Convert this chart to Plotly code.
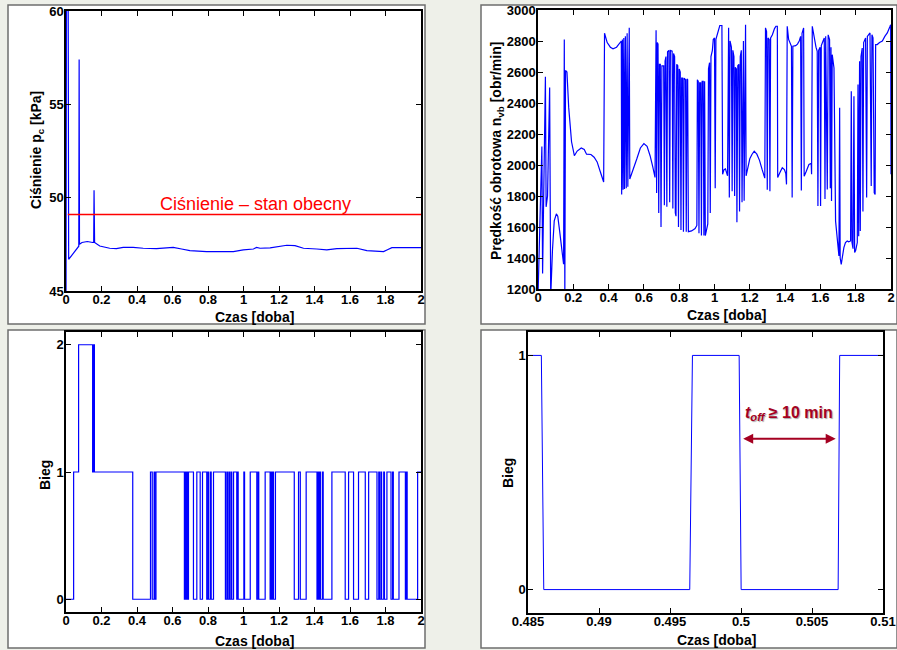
import plotly.graph_objects as go

W, H = 897, 650

# ---------------- data ----------------
# Panel 1: pressure p_c [kPa] vs time [day]
PRESS_POINTS = [
    (0.000, 44.0), (0.003, 62.0), (0.012, 62.0), (0.015, 46.7), (0.040, 47.0),
    (0.068, 47.4), (0.072, 47.4), (0.074, 57.4), (0.076, 47.5), (0.090, 47.6),
    (0.120, 47.65), (0.150, 47.6), (0.156, 47.6), (0.158, 50.4), (0.161, 47.6),
    (0.190, 47.41), (0.246, 47.29), (0.284, 47.27), (0.322, 47.34), (0.378, 47.34),
    (0.435, 47.29), (0.510, 47.27), (0.585, 47.31), (0.604, 47.34), (0.651, 47.25),
    (0.698, 47.16), (0.792, 47.11), (0.943, 47.11), (0.999, 47.2), (1.056, 47.25),
    (1.074, 47.34), (1.093, 47.29), (1.150, 47.31), (1.206, 47.41), (1.244, 47.45),
    (1.290, 47.43), (1.338, 47.29), (1.413, 47.25), (1.469, 47.2), (1.526, 47.27),
    (1.639, 47.29), (1.695, 47.16), (1.789, 47.11), (1.808, 47.2), (1.836, 47.32),
    (2.000, 47.32),
]
PRESS_NOW = 49.1
PRESS_NOW_SPAN = [0.01, 2.0]
PRESS_LABEL = "Ciśnienie – stan obecny"

# Panel 2: rotational speed n_vb [obr/min]
RPM_POINTS = [
    (0.000, 1150), (0.012, 1750), (0.022, 2120), (0.026, 1300), (0.034, 2120),
    (0.042, 2570), (0.046, 1730), (0.054, 1800), (0.066, 2500), (0.072, 1150),
    (0.082, 1450), (0.092, 1640), (0.104, 1685), (0.112, 1670), (0.122, 1580),
    (0.134, 1450), (0.145, 1360), (0.149, 2810), (0.152, 1150), (0.156, 2610),
    (0.164, 2600), (0.174, 2370), (0.190, 2150), (0.206, 2060), (0.222, 2090),
    (0.245, 2110), (0.262, 2100), (0.275, 2070), (0.300, 2068), (0.318, 2050),
    (0.335, 2020), (0.352, 1960), (0.372, 1890), (0.377, 2850), (0.392, 2790),
    (0.410, 2760), (0.425, 2750), (0.445, 2760), (0.462, 2790), (0.472, 2800),
    (0.474, 1810), (0.478, 2810), (0.482, 1840), (0.486, 2820), (0.490, 1845),
    (0.495, 2830), (0.500, 1850), (0.505, 2850), (0.509, 1860), (0.513, 2880),
    (0.517, 2885), (0.520, 1910), (0.540, 1970), (0.560, 2040), (0.580, 2110),
    (0.600, 2138), (0.618, 2120), (0.635, 2060), (0.650, 1990), (0.663, 1920),
    (0.669, 2870), (0.672, 1820), (0.676, 2790), (0.680, 2780), (0.684, 1690),
    (0.688, 2650), (0.693, 2650), (0.697, 1600), (0.702, 2640), (0.712, 2640),
    (0.716, 1740), (0.720, 2670), (0.725, 2700), (0.730, 1730), (0.734, 2730),
    (0.742, 2740), (0.746, 1760), (0.750, 2740), (0.760, 2735), (0.764, 1720),
    (0.768, 2720), (0.774, 2700), (0.778, 1690), (0.782, 1670), (0.786, 2650),
    (0.792, 2640), (0.796, 1600), (0.800, 2620), (0.806, 2600), (0.810, 1580),
    (0.814, 2560), (0.820, 2560), (0.824, 1570), (0.828, 2560), (0.836, 2550),
    (0.840, 1570), (0.844, 2555), (0.848, 2550), (0.852, 1570), (0.870, 1575),
    (0.890, 1590), (0.900, 1610), (0.903, 2550), (0.908, 2540), (0.912, 1560),
    (0.916, 2530), (0.922, 2530), (0.926, 1545), (0.930, 2540), (0.936, 2540),
    (0.940, 1545), (0.944, 2540), (0.948, 1545), (0.956, 1600), (0.962, 1620),
    (0.966, 2620), (0.972, 2660), (0.976, 1690), (0.980, 2700), (0.988, 2740),
    (0.993, 2810), (1.000, 2820), (1.004, 1850), (1.008, 2810), (1.018, 2860),
    (1.030, 2900), (1.042, 2900), (1.046, 1940), (1.054, 1970), (1.062, 1975),
    (1.070, 1945), (1.074, 1930), (1.080, 2885), (1.084, 1790), (1.088, 2800),
    (1.096, 2760), (1.100, 1830), (1.104, 2740), (1.110, 2700), (1.114, 1800),
    (1.118, 2630), (1.124, 2620), (1.127, 1630), (1.132, 2640), (1.138, 2650),
    (1.142, 1700), (1.146, 2700), (1.152, 2740), (1.156, 1760), (1.160, 2760),
    (1.164, 2800), (1.168, 1770), (1.172, 2880), (1.176, 2905), (1.179, 1930),
    (1.190, 1990), (1.200, 2040), (1.212, 2068), (1.225, 2089), (1.240, 2070),
    (1.255, 2030), (1.270, 1970), (1.285, 1915), (1.289, 2885), (1.295, 2860),
    (1.299, 1840), (1.303, 2820), (1.310, 2810), (1.314, 1830), (1.318, 2820),
    (1.328, 2840), (1.340, 2880), (1.348, 2895), (1.356, 2895), (1.358, 1920),
    (1.370, 1950), (1.384, 1982), (1.396, 1970), (1.404, 1945), (1.408, 1875),
    (1.412, 2895), (1.420, 2810), (1.428, 2780), (1.436, 2766), (1.440, 1790),
    (1.444, 2766), (1.460, 2770), (1.470, 2780), (1.480, 2800), (1.488, 2830),
    (1.492, 1836), (1.496, 2850), (1.505, 2884), (1.508, 1928), (1.520, 1960),
    (1.535, 2003), (1.548, 2010), (1.550, 1940), (1.554, 2895), (1.565, 2810),
    (1.575, 2760), (1.582, 2734), (1.586, 1735), (1.590, 2740), (1.598, 2760),
    (1.601, 1735), (1.605, 2770), (1.615, 2800), (1.622, 2820), (1.626, 1780),
    (1.630, 2830), (1.639, 1842), (1.644, 2840), (1.652, 2809), (1.656, 1850),
    (1.660, 2760), (1.663, 1767), (1.667, 2712), (1.677, 2626), (1.686, 1638),
    (1.696, 1510), (1.705, 1413), (1.709, 2369), (1.712, 1400), (1.718, 1359),
    (1.726, 1420), (1.733, 1467), (1.742, 1500), (1.752, 1510), (1.760, 1505),
    (1.771, 1510), (1.775, 2476), (1.779, 1500), (1.785, 1460), (1.790, 2444),
    (1.794, 1435), (1.800, 1450), (1.809, 1500), (1.813, 2519), (1.817, 1540),
    (1.822, 2669), (1.826, 1574), (1.830, 2700), (1.837, 2755), (1.841, 1700),
    (1.845, 2790), (1.856, 2820), (1.862, 1790), (1.866, 2830), (1.881, 2852),
    (1.888, 1864), (1.892, 2840), (1.898, 2820), (1.905, 1820), (1.910, 1810),
    (1.913, 2777), (1.922, 2777), (1.935, 2790), (1.951, 2800), (1.965, 2830),
    (1.979, 2852), (1.993, 2890), (1.998, 2905), (2.000, 1940),
]

# Panel 3: gear (Bieg) - switching instants and value after switch
BIEG_STEPS = [
    (0.000, 0), (0.043, 1), (0.071, 2), (0.150, 1), (0.153, 2), (0.156, 1),
    (0.158, 2), (0.160, 1), (0.376, 0), (0.476, 1), (0.4859, 0), (0.4965, 1),
    (0.4999, 0), (0.5069, 1), (0.667, 0), (0.672, 1), (0.676, 0), (0.680, 1),
    (0.684, 0), (0.690, 1), (0.718, 0), (0.737, 1), (0.756, 0), (0.769, 1),
    (0.793, 0), (0.800, 1), (0.804, 0), (0.814, 1), (0.818, 0), (0.831, 1),
    (0.898, 0), (0.906, 1), (0.910, 0), (0.918, 1), (0.922, 0), (0.930, 1),
    (0.934, 0), (0.944, 1), (0.962, 0), (0.966, 1), (0.970, 0), (1.002, 1),
    (1.006, 0), (1.038, 1), (1.075, 0), (1.082, 1), (1.086, 0), (1.122, 1),
    (1.150, 0), (1.155, 1), (1.159, 0), (1.165, 1), (1.169, 0), (1.180, 1),
    (1.286, 0), (1.310, 1), (1.320, 0), (1.353, 1), (1.414, 0), (1.420, 1),
    (1.424, 0), (1.430, 1), (1.434, 0), (1.445, 1), (1.449, 0), (1.498, 1),
    (1.573, 0), (1.592, 1), (1.620, 0), (1.648, 1), (1.686, 0), (1.705, 1),
    (1.752, 0), (1.762, 1), (1.766, 0), (1.774, 1), (1.778, 0), (1.790, 1),
    (1.794, 0), (1.808, 1), (1.831, 0), (1.840, 1), (1.844, 0), (1.876, 1),
    (1.912, 0), (1.918, 1), (1.922, 0), (1.981, 1), (2.000, 1),
]

# Panel 4: zoom of gear around t = 0.5 day (sampled data)
ZOOM_T = [0.4850, 0.48594, 0.48611, 0.49639, 0.49658, 0.49987, 0.50001, 0.50684, 0.50695, 0.5100]
ZOOM_V = [1, 1, 0, 0, 1, 1, 0, 0, 1, 1]
ZOOM_TICKS = [0.485, 0.49, 0.495, 0.5, 0.505, 0.51]
ZOOM_TICKTEXT = ["0.485", "0.49", "0.495", "0.5", "0.505", "0.51"]
TOFF_SPAN = [0.50005, 0.50667]
TOFF_LABEL = "<b><i>t</i><sub><i>off</i></sub> ≥ 10 min</b>"

# ---------------- helpers ----------------
def px_x(p):
    return p / W

def px_y(p):
    return 1 - p / H

BLUE = "#0000ff"
FONT = "Liberation Sans, Arial, sans-serif"
TICKFONT = dict(family=FONT, size=13, color="black", weight="bold")

fig = go.Figure()

pt, pv = zip(*PRESS_POINTS)
fig.add_trace(go.Scatter(x=pt, y=pv, mode="lines", line=dict(color=BLUE, width=1.2),
                         xaxis="x", yaxis="y", showlegend=False))
fig.add_trace(go.Scatter(x=PRESS_NOW_SPAN, y=[PRESS_NOW, PRESS_NOW], mode="lines",
                         line=dict(color="#ff0000", width=1.6), xaxis="x", yaxis="y",
                         showlegend=False))

rt, rv = zip(*RPM_POINTS)
fig.add_trace(go.Scatter(x=rt, y=rv, mode="lines", line=dict(color=BLUE, width=1.2),
                         xaxis="x2", yaxis="y2", showlegend=False))

bt, bv = zip(*BIEG_STEPS)
fig.add_trace(go.Scatter(x=bt, y=bv, mode="lines", line=dict(color=BLUE, width=1.2, shape="hv"),
                         xaxis="x3", yaxis="y3", showlegend=False))

fig.add_trace(go.Scatter(x=ZOOM_T, y=ZOOM_V, mode="lines", line=dict(color=BLUE, width=1),
                         xaxis="x4", yaxis="y4", showlegend=False))

# panel frames
frames = [(8, 5, 425, 324), (481, 5, 897, 324), (8, 330, 425, 648), (481, 330, 897, 648)]
shapes = []
for (x0, y0, x1, y1) in frames:
    shapes.append(dict(type="rect", xref="paper", yref="paper",
                       x0=px_x(x0), x1=px_x(x1), y0=px_y(y1), y1=px_y(y0),
                       fillcolor="white", line=dict(color="#6e6e6e", width=1.5), layer="below"))


def axis(domain_px, rng, anchor, vertical=False, dtick=None, tickvals=None, ticktext=None):
    a0, a1 = domain_px
    dom = [px_y(a1), px_y(a0)] if vertical else [px_x(a0), px_x(a1)]
    d = dict(domain=dom, range=rng, anchor=anchor, automargin=False, showgrid=False,
             zeroline=False, showline=True, linecolor="black", linewidth=1.5,
             mirror="ticks", ticks="inside", ticklen=5, tickwidth=1, tickcolor="black",
             tickfont=TICKFONT, fixedrange=True,
             ticklabelstandoff=(-2 if vertical else -4))
    if dtick is not None:
        d["tickmode"] = "linear"
        d["tick0"] = rng[0]
        d["dtick"] = dtick
    if tickvals is not None:
        d["tickmode"] = "array"
        d["tickvals"] = tickvals
        d["ticktext"] = ticktext
    return d

fig.update_layout(
    width=W, height=H, margin=dict(l=0, r=0, t=0, b=0, pad=0, autoexpand=False),
    paper_bgcolor="#eef0e9", plot_bgcolor="white", showlegend=False,
    xaxis=axis((66, 421), [0, 2], "y", dtick=0.2),
    yaxis=axis((11, 291), [45, 60], "x", vertical=True, dtick=5),
    xaxis2=axis((538, 891), [0, 2], "y2", dtick=0.2),
    yaxis2=axis((10, 289), [1200, 3000], "x2", vertical=True, dtick=200),
    xaxis3=axis((66, 421), [0, 2], "y3", dtick=0.2),
    yaxis3=axis((332, 612), [-0.1, 2.1], "x3", vertical=True, tickvals=[0, 1, 2], ticktext=["0", "1", "2"]),
    xaxis4=axis((528, 883), [0.485, 0.51], "y4", tickvals=ZOOM_TICKS, ticktext=ZOOM_TICKTEXT),
    yaxis4=axis((332, 613), [-0.1, 1.1], "x4", vertical=True, tickvals=[0, 1], ticktext=["0", "1"]),
    shapes=shapes,
)

TITLEFONT = dict(family=FONT, size=14, color="black", weight="bold")
titles = [
    ("Czas [doba]", 254, 317, 0),
    ("Czas [doba]", 726, 315, 0),
    ("Czas [doba]", 254, 641, 0),
    ("Czas [doba]", 716, 640, 0),
    ("Ciśnienie p<sub>c</sub> [kPa]", 37, 150, -90),
    ("Prędkość obrotowa n<sub>vb</sub> [obr/min]", 497, 151, -90),
    ("Bieg", 45, 475, -90),
    ("Bieg", 508, 473, -90),
]
for text, x, y, ang in titles:
    fig.add_annotation(text=text, x=px_x(x), y=px_y(y), xref="paper", yref="paper",
                       showarrow=False, textangle=ang, font=TITLEFONT,
                       xanchor="center", yanchor="middle")

fig.add_annotation(text=PRESS_LABEL, x=1.0676, y=49.66, xref="x", yref="y", showarrow=False,
                   font=dict(family=FONT, size=18, color="#ff0000"), xanchor="center", yanchor="middle")

DARKRED = "#a50021"
fig.add_annotation(text=TOFF_LABEL, x=0.5034, y=0.75, xref="x4", yref="y4", showarrow=False,
                   font=dict(family=FONT, size=16, color=DARKRED, shadow="1px 1px 1px rgba(0,0,0,0.35)"),
                   xanchor="center", yanchor="middle")
fig.add_annotation(text="", x=TOFF_SPAN[1], y=0.644, ax=TOFF_SPAN[0], ay=0.644,
                   xref="x4", yref="y4", axref="x4", ayref="y4", showarrow=True,
                   arrowhead=2, startarrowhead=2, arrowside="end+start", arrowsize=1,
                   arrowwidth=2, arrowcolor=DARKRED)

fig.write_html("out.html", config={"displayModeBar": False},
               post_script="document.body.style.margin='0px';document.body.style.overflow='hidden';")
